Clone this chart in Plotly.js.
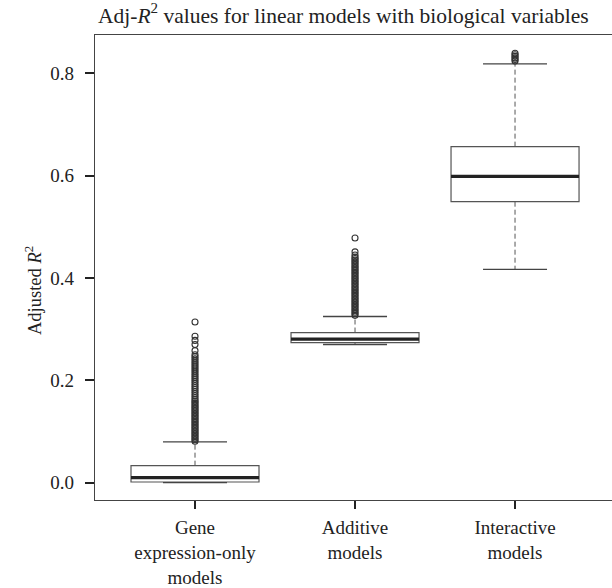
<!DOCTYPE html>
<html>
<head>
<meta charset="utf-8">
<script src="https://cdn.plot.ly/plotly-3.0.1.min.js"></script>
<style>html,body{margin:0;padding:0;background:#fff;}</style>
</head>
<body>
<div id="chart" style="width:612px;height:588px;"></div>
<script>
// ---- data ----
var categories = ["Gene<br>expression-only<br>models", "Additive<br>models", "Interactive<br>models"];
var positions = [1, 2, 3];
var lowerWhisker = [0.000, 0.270, 0.4166];
var q1Values     = [0.0014, 0.2738, 0.549];
var medianValues = [0.0098, 0.2805, 0.5985];
var q3Values     = [0.0333, 0.2934, 0.6566];
var upperWhisker = [0.0796, 0.3247, 0.8184];
var outliersGene = [0.081,0.084,0.087,0.090,0.093,0.096,0.099,0.102,0.105,0.108,0.111,0.114,0.117,0.120,0.123,0.126,0.129,0.132,0.135,0.138,0.141,0.144,0.147,0.150,0.153,0.156,0.159,0.162,0.166,0.170,0.174,0.178,0.182,0.186,0.190,0.194,0.198,0.202,0.206,0.210,0.214,0.218,0.222,0.226,0.230,0.234,0.238,0.242,0.246,0.250,0.258,0.270,0.278,0.286,0.314];
var outliersAdditive = [0.327,0.330,0.333,0.336,0.339,0.342,0.345,0.348,0.351,0.354,0.357,0.360,0.363,0.366,0.369,0.372,0.375,0.378,0.381,0.384,0.387,0.390,0.393,0.396,0.399,0.402,0.405,0.408,0.411,0.414,0.417,0.420,0.423,0.426,0.429,0.432,0.435,0.438,0.441,0.445,0.451,0.478];
var outliersInteractive = [0.824,0.827,0.830,0.833,0.836,0.839];
var yTicks = [0.0, 0.2, 0.4, 0.6, 0.8];
var yTickText = ["0.0", "0.2", "0.4", "0.6", "0.8"];

// ---- style ----
var FONT = "'Liberation Serif', 'Times New Roman', serif";
var boxHalf = 0.4, capHalf = 0.2;

var traces = [];
// dashed whiskers
var wx = [], wy = [];
positions.forEach(function(p, i){
  wx.push(p, p, null, p, p, null);
  wy.push(q1Values[i], lowerWhisker[i], null, q3Values[i], upperWhisker[i], null);
});
traces.push({type:"scatter", mode:"lines", x:wx, y:wy, hoverinfo:"skip",
  line:{color:"#555", width:1, dash:"5px,3px"}, showlegend:false});
// caps
var cx = [], cy = [];
positions.forEach(function(p, i){
  cx.push(p-capHalf, p+capHalf, null, p-capHalf, p+capHalf, null);
  cy.push(lowerWhisker[i], lowerWhisker[i], null, upperWhisker[i], upperWhisker[i], null);
});
traces.push({type:"scatter", mode:"lines", x:cx, y:cy, hoverinfo:"skip",
  line:{color:"#444", width:1.3}, showlegend:false});
// boxes
traces.push({type:"box", x:positions, q1:q1Values, median:medianValues, q3:q3Values,
  lowerfence:q1Values, upperfence:q3Values, width:2*boxHalf, whiskerwidth:0,
  boxpoints:false, fillcolor:"rgba(255,255,255,1)", line:{color:"#555", width:1.2}, showlegend:false});
// thick medians
var mx = [], my = [];
positions.forEach(function(p, i){
  mx.push(p-boxHalf, p+boxHalf, null);
  my.push(medianValues[i], medianValues[i], null);
});
traces.push({type:"scatter", mode:"lines", x:mx, y:my, hoverinfo:"skip",
  line:{color:"#222", width:3.2}, showlegend:false});
// outliers
var outSets = [outliersGene, outliersAdditive, outliersInteractive];
var ox = [], oy = [];
outSets.forEach(function(arr, i){ arr.forEach(function(v){ ox.push(positions[i]); oy.push(v); }); });
traces.push({type:"scatter", mode:"markers", x:ox, y:oy, hoverinfo:"skip",
  marker:{symbol:"circle-open", size:6, color:"#333", line:{width:1.1}}, showlegend:false});

var layout = {
  width:612, height:588,
  margin:{l:95, r:0, t:35, b:88},
  paper_bgcolor:"#fff", plot_bgcolor:"#fff",
  font:{family:FONT, size:19, color:"#222"},
  showlegend:false,
  title:{text:"Adj-<i>R</i><sup>2</sup> values for linear models with biological variables",
    font:{family:FONT, size:21.5, color:"#222"}, x:98/612, xanchor:"left", xref:"container",
    y:1-15/588, yanchor:"middle", yref:"container"},
  xaxis:{range:[0.375, 3.606], tickvals:positions, ticktext:categories, showgrid:false, zeroline:false,
    showline:true, mirror:true, linecolor:"#444", linewidth:1.3,
    ticks:"outside", ticklen:8, tickwidth:2, tickcolor:"#222", ticklabelstandoff:2,
    tickfont:{family:FONT, size:19, color:"#222"}},
  yaxis:{range:[-0.0338, 0.8747], tickvals:yTicks, ticktext:yTickText, showgrid:false, zeroline:false,
    showline:true, mirror:false, linecolor:"#444", linewidth:1.3,
    ticks:"outside", ticklen:9, tickwidth:2, tickcolor:"#222", ticklabelstandoff:7,
    tickfont:{family:FONT, size:19, color:"#222"}},
  annotations:[{text:"Adjusted <i>R</i><sup>2</sup>", textangle:-90, xref:"paper", yref:"paper",
    x:(33-95)/517, y:(500-291)/465, xanchor:"center", yanchor:"middle", showarrow:false,
    font:{family:FONT, size:18.5, color:"#222"}}]
};

Plotly.newPlot("chart", traces, layout, {displayModeBar:false, staticPlot:true});
</script>
</body>
</html>
